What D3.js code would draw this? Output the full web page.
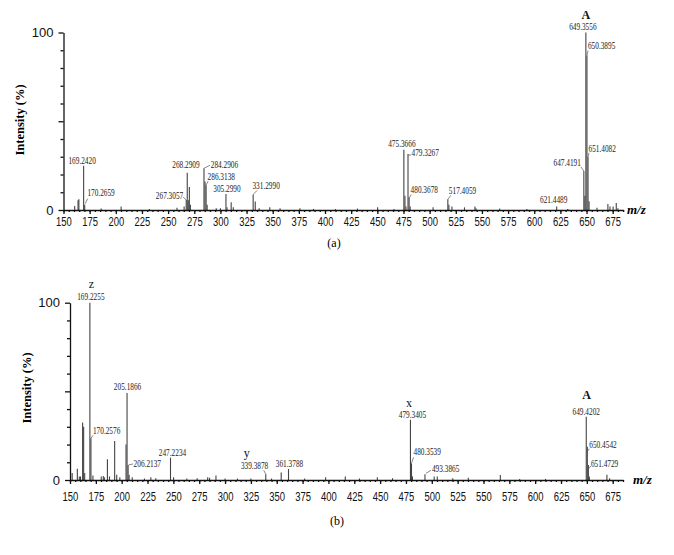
<!DOCTYPE html>
<html>
<head>
<meta charset="utf-8">
<script src="https://cdn.jsdelivr.net/npm/d3@7"></script>
<style>
  body { margin: 0; background: #fff; }
  svg { display: block; font-family: "Liberation Serif", "Times New Roman", serif; }
</style>
</head>
<body>
<svg id="chart" width="674" height="555"></svg>
<script>
// ---- data: panel (a) ----
const mzA = [160.7, 163.9, 164.7, 169.2420, 170.2659, 186.0, 205.1, 232.0, 258.5, 265.3,
  267.3057, 268.2909, 269.3, 270.3, 271.3, 284.2906, 285.3, 286.3138, 287.3, 296.0,
  300.0, 305.2990, 306.3, 310.3, 312.3, 331.2990, 333.3, 337.0, 347.2, 357.0,
  376.0, 389.0, 410.0, 431.0, 450.3, 466.0, 475.3666, 476.4, 477.4, 479.3267,
  480.3678, 481.4, 503.3, 517.4059, 518.4, 521.3, 533.3, 543.3, 544.3, 567.0,
  593.0, 621.4489, 632.0, 647.4191, 648.4, 649.3556, 650.3895, 651.4082, 652.4, 660.0,
  670.4, 672.4, 675.4, 678.4, 680.0];
const intA = [2.3, 5.5, 6, 25, 3, 0.8, 2, 0.6, 1.2, 2,
  5.6, 21, 5.5, 13, 3, 23.5, 16, 14, 3, 1,
  1, 9, 1.5, 4.3, 1.5, 8.8, 4.8, 1, 1.5, 1,
  1, 0.6, 0.5, 0.8, 1.5, 0.6, 34, 8, 2, 31.5,
  7, 2, 1.5, 6, 3, 2, 1.5, 2, 1, 0.8,
  0.6, 2, 0.6, 22, 8, 100, 87, 30, 5, 1.2,
  3.4, 2, 2, 4, 1];
const labelMzA = [169.2420, 170.2659, 267.3057, 268.2909, 284.2906, 286.3138, 305.2990, 331.2990,
  475.3666, 479.3267, 480.3678, 517.4059, 621.4489, 647.4191, 649.3556, 650.3895, 651.4082];
const ionTextA = ["A"];
const ionMzA = [649.3556];

// ---- data: panel (b) ----
const mzB = [152.1, 157.1, 159.0, 160.2, 162.2, 163.2, 164.2, 169.2255, 170.2576, 172.2,
  180.2, 182.2, 183.2, 186.2, 188.2, 193.2, 195.2, 198.2, 204.2, 205.1866,
  206.2137, 207.2, 210.2, 222.0, 228.2, 233.0, 247.2234, 250.2, 263.0, 273.0,
  283.2, 285.0, 291.2, 300.0, 312.0, 325.0, 339.3878, 345.0, 354.3, 361.3788,
  377.0, 397.3, 416.3, 430.0, 447.3, 462.0, 479.3405, 480.3539, 481.3, 493.3865,
  502.3, 505.3, 520.3, 535.3, 566.3, 585.0, 610.0, 649.4202, 650.4542, 651.4729,
  652.4, 669.4, 672.0];
const intB = [4, 6.4, 2, 2, 32.5, 30, 4, 100, 23.5, 2.5,
  2, 2.2, 1.5, 11.7, 2, 22, 3, 1.5, 20, 49,
  8.5, 3, 1.5, 0.8, 1.5, 1, 12.6, 1.5, 0.8, 1,
  1.5, 1.2, 2.5, 0.8, 0.8, 0.8, 3.2, 0.8, 4.3, 6.2,
  0.8, 1.5, 2, 0.8, 1.5, 1, 34, 9.4, 2, 3.2,
  2, 2, 1, 1.2, 2.8, 0.6, 0.6, 35.7, 18.8, 8.5,
  2, 3, 1];
const labelMzB = [169.2255, 170.2576, 205.1866, 206.2137, 247.2234, 339.3878, 361.3788,
  479.3405, 480.3539, 493.3865, 649.4202, 650.4542, 651.4729];
const ionTextB = ["z", "y", "x", "A"];
const ionMzB = [169.2255, 339.3878, 479.3405, 649.4202];

// ---- shared axis labels ----
const xTickLabels = [150, 175, 200, 225, 250, 275, 300, 325, 350, 375, 400, 425, 450,
  475, 500, 525, 550, 575, 600, 625, 650, 675];
const yTickLabels = [0, 100];

// label placement relative to the peak top: [dx, dy, anchor, leader [x1,y1,x2,y2] or null]
const placeA = [
  [-1.5, -2, "middle", null],
  [2.7, -8.7, "start", [0.5, -1, 3, -6]],
  [-3, -1, "end", [-3, -3, 0, 0]],
  [-1.3, -5, "middle", null],
  [6.8, -0.6, "start", [0, 0, 6, -3]],
  [1.5, -5.2, "start", [0, 0, 2, -4]],
  [1, -2, "middle", null],
  [-0.7, -5.4, "start", [0, 0, 4, -4]],
  [-2, -3, "middle", null],
  [3.5, 2, "start", [0, 1, 3, 1]],
  [1.5, -4.3, "start", [0, 1, 2, -3]],
  [1, -5.4, "start", [0, 0, 3, -4]],
  [-3, -3, "middle", null],
  [-3, -5.3, "end", [-3, -4, 0, 0]],
  [-3, -2.5, "middle", null],
  [1, -6.6, "start", [0, 0, 1, -5]],
  [0.5, -5, "start", [0, 0, 1, -4]]
];
const ionPlaceA = [[0, -14, true]];

const placeB = [
  [1, -3, "middle", null],
  [2, -4.3, "start", [0, 0, 2, -3]],
  [0.5, -3, "middle", null],
  [5.5, 2.4, "start", [0.5, 0, 5, -1]],
  [2, -1.5, "middle", null],
  [2.5, -5, "end", [-2, -4, 0, 0]],
  [1, -2, "middle", null],
  [2, -1.5, "middle", null],
  [2, -8.3, "start", [0, 0, 2, -6]],
  [7, -2.6, "start", [1, -1, 6, -4]],
  [0, -2, "middle", null],
  [2, 1.6, "start", [0, 5, 2, 2]],
  [2.5, 2.4, "start", [0, 4, 2.5, 1]]
];
const ionPlaceB = [[1.5, -15, false], [-19, -17.6, false], [-1.5, -13, false], [0.3, -17.5, true]];

const svg = d3.select("#chart");

function drawPanel(p) {
  const k = (p.right - p.left) / 525;
  const x = d3.scaleLinear().domain([150, 685]).range([p.left, p.left + 535 * k]);
  const y = d3.scaleLinear().domain([0, 100]).range([p.bottom, p.top]);
  const g = svg.append("g");

  // peaks
  g.append("g")
    .selectAll("line")
    .data(d3.zip(p.mz, p.int))
    .join("line")
    .attr("x1", (d) => x(d[0]))
    .attr("x2", (d) => x(d[0]))
    .attr("y1", y(0))
    .attr("y2", (d) => y(d[1]))
    .attr("stroke", "#444")
    .attr("stroke-width", 1.1);

  // x axis: minor then major
  g.append("g")
    .attr("transform", `translate(0,${p.bottom})`)
    .call(d3.axisBottom(x).tickValues(d3.range(150, 686, 5)).tickSize(2).tickSizeOuter(0).tickFormat(""))
    .call((a) => a.select(".domain").remove());
  const xAxis = g.append("g")
    .attr("transform", `translate(0,${p.bottom})`)
    .call(d3.axisBottom(x).tickValues(xTickLabels).tickSize(4).tickSizeOuter(0).tickPadding(p.xPad));
  xAxis.selectAll("text")
    .attr("transform", "scale(0.7,1)")
    .style("font-family", "inherit")
    .style("font-size", "13.5px")
    .attr("fill", "#111");

  // y axis
  const yAxis = g.append("g")
    .attr("transform", `translate(${p.left},0)`)
    .call(d3.axisLeft(y).tickValues(d3.range(0, 101, 10)).tickSize(3).tickSizeOuter(0).tickPadding(7)
      .tickFormat((d) => (yTickLabels.includes(d) ? d : "")));
  yAxis.selectAll(".tick line").attr("x2", (d) => (d % 50 === 0 ? -5 : -3));
  yAxis.selectAll("text")
    .style("font-family", "inherit")
    .style("font-size", "13px")
    .attr("fill", "#111");

  g.selectAll(".domain, .tick line").attr("stroke", "#111").attr("stroke-width", 1.3);

  // axis titles
  g.append("text")
    .attr("transform", `translate(${p.yTitle[0]},${p.yTitle[1]}) rotate(-90)`)
    .attr("text-anchor", "middle")
    .attr("dy", "0.35em")
    .attr("font-size", 12.5)
    .attr("font-weight", "bold")
    .text("Intensity (%)");
  g.append("text")
    .attr("x", p.mzLabel[0])
    .attr("y", p.mzLabel[1])
    .attr("font-size", 13)
    .attr("font-weight", "bold")
    .attr("font-style", "italic")
    .text("m/z");

  // peak labels
  const peakTop = (mz) => [x(mz), y(p.int[p.mz.indexOf(mz)])];
  p.labels.forEach((mz, i) => {
    const [px, py] = peakTop(mz);
    const [dx, dy, anchor, leader] = p.place[i];
    if (leader) {
      g.append("line")
        .attr("x1", px + leader[0]).attr("y1", py + leader[1])
        .attr("x2", px + leader[2]).attr("y2", py + leader[3])
        .attr("stroke", "#555").attr("stroke-width", 0.7);
    }
    g.append("text")
      .attr("transform", `translate(${px + dx},${py + dy}) scale(0.73,1)`)
      .attr("text-anchor", anchor)
      .attr("font-size", 10)
      .attr("fill", "#1a1a1a")
      .text(mz.toFixed(4));
  });

  // ion tags
  p.ions.forEach((t, i) => {
    const [px, py] = peakTop(p.ionMz[i]);
    const [dx, dy, bold] = p.ionPlace[i];
    g.append("text")
      .attr("x", px + dx)
      .attr("y", py + dy)
      .attr("text-anchor", "middle")
      .attr("font-size", 12)
      .attr("font-weight", bold ? "bold" : "normal")
      .attr("fill", "#111")
      .text(t);
  });

  // caption
  svg.append("text")
    .attr("x", p.caption[0])
    .attr("y", p.caption[1])
    .attr("text-anchor", "middle")
    .attr("font-size", 12)
    .text(p.caption[2]);
}

drawPanel({
  left: 63.5, right: 612.7, top: 32.5, bottom: 210, xPad: 2.5,
  mz: mzA, int: intA, labels: labelMzA, place: placeA,
  ions: ionTextA, ionMz: ionMzA, ionPlace: ionPlaceA,
  yTitle: [20, 120], mzLabel: [627, 214], caption: [334, 247, "(a)"]
});
drawPanel({
  left: 70, right: 612.7, top: 302.7, bottom: 480, xPad: 7.5,
  mz: mzB, int: intB, labels: labelMzB, place: placeB,
  ions: ionTextB, ionMz: ionMzB, ionPlace: ionPlaceB,
  yTitle: [26.7, 388], mzLabel: [633, 484], caption: [337, 525, "(b)"]
});
</script>
</body>
</html>
